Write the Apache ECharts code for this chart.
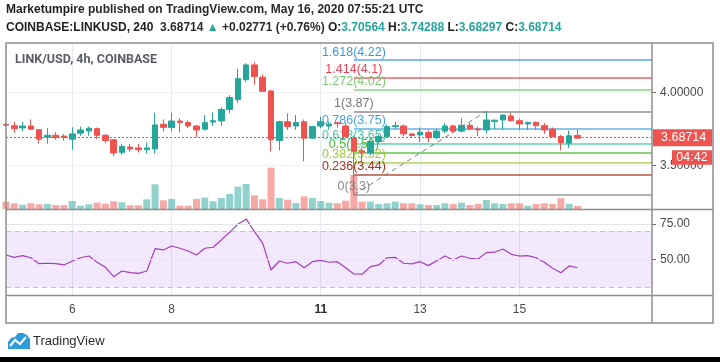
<!DOCTYPE html>
<html><head><meta charset="utf-8">
<script src="https://cdn.jsdelivr.net/npm/echarts@6/dist/echarts.min.js"></script>
<style>html,body{margin:0;padding:0;background:#fff}#c{width:720px;height:362px}</style>
</head><body><div id="c"></div>
<script>
// ---------- data ----------
// 4h candles, first one starts 2020-05-04 16:00 UTC
const opens  = [3.781,3.772,3.757,3.770,3.745,3.694,3.707,3.701,3.680,3.721,3.736,3.752,3.707,3.676,3.590,3.626,3.620,3.608,3.613,3.782,
                3.759,3.804,3.793,3.770,3.748,3.797,3.804,3.883,3.950,4.086,4.187,4.103,4.009,3.671,3.799,3.770,3.799,3.687,3.770,3.770,
                3.792,3.770,3.687,3.600,3.586,3.664,3.698,3.766,3.770,3.716,3.709,3.725,3.690,3.735,3.770,3.735,3.775,3.750,3.743,3.800,
                3.811,3.838,3.806,3.784,3.795,3.772,3.748,3.698,3.653,3.70564];
const highs  = [3.790,3.799,3.799,3.815,3.748,3.755,3.728,3.716,3.761,3.766,3.766,3.759,3.716,3.680,3.649,3.649,3.649,3.657,3.860,3.815,
                3.860,3.822,3.806,3.777,3.845,3.862,3.896,3.980,4.160,4.198,4.205,4.122,4.018,3.806,3.856,3.845,3.815,3.770,3.833,3.800,
                3.800,3.790,3.700,3.620,3.670,3.710,3.780,3.800,3.780,3.720,3.760,3.740,3.750,3.790,3.780,3.824,3.790,3.765,3.870,3.812,
                3.845,3.860,3.820,3.800,3.800,3.790,3.760,3.710,3.739,3.74288];
const lows   = [3.765,3.725,3.736,3.743,3.653,3.649,3.676,3.671,3.608,3.703,3.703,3.680,3.653,3.563,3.574,3.597,3.590,3.581,3.581,3.732,
                3.732,3.725,3.755,3.694,3.739,3.770,3.770,3.856,3.928,4.070,4.052,4.002,3.597,3.603,3.743,3.743,3.529,3.680,3.755,3.745,
                3.760,3.690,3.300,3.520,3.570,3.650,3.690,3.750,3.700,3.690,3.660,3.660,3.680,3.720,3.720,3.725,3.740,3.700,3.720,3.748,
                3.743,3.800,3.740,3.743,3.743,3.716,3.694,3.603,3.620,3.68297];
const closes = [3.775,3.752,3.770,3.748,3.680,3.707,3.691,3.691,3.716,3.743,3.755,3.707,3.671,3.586,3.630,3.613,3.608,3.620,3.777,3.761,
                3.804,3.793,3.770,3.743,3.793,3.806,3.883,3.964,4.093,4.187,4.108,4.007,3.676,3.799,3.766,3.793,3.687,3.766,3.799,3.782,
                3.786,3.698,3.597,3.590,3.664,3.698,3.766,3.772,3.716,3.705,3.728,3.690,3.735,3.770,3.735,3.775,3.750,3.743,3.811,3.810,
                3.845,3.806,3.784,3.793,3.772,3.743,3.698,3.657,3.703,3.68714];
const volumes = [73,57,43,57,47,50,40,40,80,33,47,63,53,77,67,37,37,97,247,87,
                 100,33,33,100,113,77,110,150,223,250,137,97,413,110,93,60,127,110,80,63,
                 57,83,340,73,73,50,57,73,57,57,47,40,40,57,50,63,40,50,90,57,
                 50,57,57,33,50,57,50,107,53,30];
const rsi = [53,51.4,52.6,51.1,46.9,47.2,46.9,46,48.8,51.1,52.3,47.9,44.3,37.7,41.7,40.5,40,41.7,57.5,56.6,
             59.4,57.8,55.9,53,57.8,58.5,63.7,69.1,74.8,78.6,69.6,61.3,42.4,48.8,47.2,48.3,44,48.3,49.2,47.9,
             48.3,44,39.6,39.4,44.8,46,51.1,51.4,47.2,46.7,48.3,45.5,49,52.3,49.5,52.3,50.7,50.2,54.7,55,
             57.3,53.5,52.3,52.6,51.1,47.9,43.6,40.5,45.3,44];
const startUTC = Date.UTC(2020, 4, 4, 16);   // first candle
const slotCount = 79;                          // 4h slots shown on the time axis
const dayTicks = ['6', '8', '11', '13', '15'];
const boldDays = ['11'];
const priceTicks = [3.5, 4.0];
const rsiTicks = [50, 75];
const rsiBand = [30, 70];
const fibRatios = ['1.618', '1.414', '1.272', '1', '0.786', '0.618', '0.5', '0.382', '0.236', '0'];
const fibPrices = [4.22, 4.1, 4.02, 3.87, 3.75, 3.65, 3.59, 3.52, 3.44, 3.3];
const fibFromIdx = 42, fibToIdx = 58;          // swing low candle -> swing high candle
const headerAuthor = 'Marketumpire';
const headerPub = 'published on TradingView.com, May 16, 2020 07:55:21 UTC';
const headerSymbol = 'COINBASE:LINKUSD, 240';
const headerChange = ['+0.02771', '+0.76%'];
const legendText = 'LINK/USD, 4h, COINBASE';
const countdown = '04:42';

// ---------- styles ----------
const UP = '#26a69a', DOWN = '#ef5350';
const fibColors = ['#3f95dc', '#ee4458', '#7cc873', '#7a7a7a', '#4aa2e4', '#45c79f', '#45bb30', '#a2cc3c', '#a8321f', '#8a8a8a'];
const FONT = "'Liberation Sans', Arial, sans-serif";

// ---------- build ----------
const H4 = 4 * 3600 * 1000;
const cats = [];
for (let i = 0; i < slotCount; i++) {
  const d = new Date(startUTC + i * H4);
  cats.push((d.getUTCMonth() + 1) + '/' + d.getUTCDate() + ' ' + String(d.getUTCHours()).padStart(2, '0') + ':00');
}
function dayOf(v) { return v.split(' ')[0].split('/')[1]; }
function isDayTick(idx, v) { return v.endsWith(' 00:00') && dayTicks.includes(dayOf(v)); }

const n = closes.length;
const candleData = opens.map((o, i) => [o, closes[i], lows[i], highs[i]]);
const volData = volumes.map((v, i) => ({
  value: v,
  itemStyle: { color: closes[i] >= opens[i] ? 'rgba(38,166,154,0.5)' : 'rgba(239,83,80,0.5)' }
}));
const last = n - 1;
const lastClose = closes[last];
const fmt = v => v.toFixed(5);

const chart = echarts.init(document.getElementById('c'), null, { renderer: 'canvas' });

const gridL = 6, gridW = 646;
const HF = 12;
const option = {
  animation: false,
  backgroundColor: '#ffffff',
  textStyle: { fontFamily: FONT },
  title: {
    left: 6, top: 1, padding: 0,
    text: '{b|' + headerAuthor + '} {n|' + headerPub + '}\n' +
      '{b|' + headerSymbol + '}  {n|' + fmt(lastClose) + '} {g|▲} {n|' + headerChange[0] + ' (' + headerChange[1] + ')} ' +
      '{b|O:}{g|' + fmt(opens[last]) + '} {b|H:}{g|' + fmt(highs[last]) + '} {b|L:}{g|' + fmt(lows[last]) + '} {b|C:}{g|' + fmt(closes[last]) + '}',
    textStyle: {
      fontFamily: FONT, fontSize: HF,
      rich: {
        b: { fontWeight: 'bold', color: '#1e1e1e', fontSize: HF, lineHeight: 18, fontFamily: FONT },
        n: { color: '#2a2a2a', fontSize: HF, lineHeight: 18, fontFamily: FONT },
        g: { color: UP, fontSize: HF, lineHeight: 18, fontFamily: FONT }
      }
    }
  },
  grid: [
    { left: gridL, width: gridW, top: 43, height: 166 },
    { left: gridL, width: gridW, top: 159, height: 50 },
    { left: gridL, width: gridW, top: 210, height: 85 }
  ],
  xAxis: [0, 1, 2].map(g => ({
    type: 'category', gridIndex: g, data: cats, boundaryGap: false,
    axisLine: { show: false }, axisTick: { show: false },
    axisLabel: {
      show: g === 2, interval: isDayTick, margin: 9, color: '#4a4a4a', fontSize: 12, fontFamily: FONT,
      formatter: v => boldDays.includes(dayOf(v)) ? '{b|' + dayOf(v) + '}' : dayOf(v),
      rich: { b: { fontWeight: 'bold', color: '#2a2a2a', fontSize: 12, fontFamily: FONT } }
    },
    splitLine: { show: g !== 1, interval: isDayTick, lineStyle: { color: '#e2ebf3', width: 1 } }
  })),
  yAxis: [
    {
      type: 'value', gridIndex: 0, position: 'right', min: 3.2034, max: 4.3365, scale: true,
      axisLine: { show: false },
      axisTick: { show: true, customValues: priceTicks, length: 4, lineStyle: { color: '#6e6e6e' } },
      axisLabel: { customValues: priceTicks, formatter: v => v.toFixed(5), margin: 8, color: '#4a4a4a', fontSize: 12, fontFamily: FONT },
      splitLine: { show: false }
    },
    { type: 'value', gridIndex: 1, min: 0, max: 500, show: false, splitLine: { show: false } },
    {
      type: 'value', gridIndex: 2, position: 'right', min: 24.7, max: 84.9,
      axisLine: { show: false },
      axisTick: { show: true, customValues: rsiTicks, length: 4, lineStyle: { color: '#6e6e6e' } },
      axisLabel: { customValues: rsiTicks, formatter: v => v.toFixed(2), margin: 8, color: '#4a4a4a', fontSize: 12, fontFamily: FONT },
      splitLine: { show: false }
    }
  ],
  series: [
    { // price grid lines
      type: 'line', xAxisIndex: 0, yAxisIndex: 0, data: [], silent: true,
      markLine: { silent: true, z: 0, symbol: ['none', 'none'], label: { show: false },
        lineStyle: { color: '#edf1f6', width: 1, type: 'solid' },
        data: priceTicks.map(v => ({ yAxis: v })) }
    },
    { // volume
      type: 'bar', xAxisIndex: 1, yAxisIndex: 1, data: volData, barWidth: 7, z: 1, silent: true
    },
    { // fib levels
      type: 'line', xAxisIndex: 0, yAxisIndex: 0, data: [], silent: true,
      markLine: { silent: true, z: 1, symbol: ['none', 'none'], label: { show: false },
        data: fibPrices.map((p, i) => [
          { coord: [cats[fibFromIdx], p], lineStyle: { color: fibColors[i], width: 1.5, type: 'solid', opacity: 0.85 } },
          { coord: [cats[slotCount - 1], p] }
        ]) }
    },
    { // fib labels
      type: 'scatter', xAxisIndex: 0, yAxisIndex: 0, silent: true, z: 1, symbolSize: 1,
      itemStyle: { opacity: 1, color: 'rgba(0,0,0,0)' },
      data: fibPrices.map((p, i) => ({
        value: [cats[fibFromIdx], p],
        label: { show: true, position: 'top', distance: 1, color: fibColors[i], opacity: 1, fontSize: 12.5, fontFamily: FONT,
          formatter: fibRatios[i] + '(' + String(p) + ')' }
      }))
    },
    { // candles
      type: 'candlestick', xAxisIndex: 0, yAxisIndex: 0, data: candleData, z: 3, barWidth: 6, silent: true,
      itemStyle: { color: UP, color0: DOWN, borderColor: UP, borderColor0: DOWN, borderWidth: 1 }
    },
    { // fib trend line
      type: 'line', xAxisIndex: 0, yAxisIndex: 0, data: [], silent: true,
      markLine: { silent: true, z: 4, symbol: ['none', 'none'], label: { show: false },
        lineStyle: { color: '#7a7a7a', width: 1, type: [5, 4] },
        data: [[{ coord: [cats[fibFromIdx], lows[fibFromIdx]] }, { coord: [cats[fibToIdx], highs[fibToIdx]] }]] }
    },
    { // last price line + label
      type: 'line', xAxisIndex: 0, yAxisIndex: 0, data: [], silent: true,
      markLine: { silent: true, z: 5, symbol: ['none', 'none'],
        lineStyle: { color: DOWN, width: 1, type: [2, 2] },
        label: { show: true, position: 'end', distance: 1, formatter: fmt(lastClose), color: '#ffffff',
          backgroundColor: DOWN, padding: [2, 6, 2, 8], fontSize: 12.5, fontFamily: FONT },
        data: [{ yAxis: lastClose }] }
    },
    { // RSI
      type: 'line', xAxisIndex: 2, yAxisIndex: 2, data: rsi, showSymbol: false, silent: true, z: 3,
      lineStyle: { color: '#a23fbb', width: 1.2 },
      markArea: { silent: true, itemStyle: { color: 'rgba(149,76,233,0.12)' },
        data: [[{ yAxis: rsiBand[0] }, { yAxis: rsiBand[1] }]] },
      markLine: { silent: true, symbol: ['none', 'none'], label: { show: false },
        data: rsiBand.map(v => ({ yAxis: v, lineStyle: { color: '#c4c4c8', width: 1, type: [5, 4] } }))
          .concat(rsiTicks.map(v => ({ yAxis: v, lineStyle: { color: '#e4e6f0', width: 1, type: 'solid' } }))) }
    }
  ]
};
chart.setOption(option);

// frame, legend, countdown badge and logo
const py = chart.convertToPixel({ yAxisIndex: 0 }, lastClose);
chart.setOption({
  graphic: [
    { type: 'rect', shape: { x: 6, y: 43, width: 707, height: 280 }, style: { fill: 'none', stroke: '#8e8e8e', lineWidth: 1.5 }, silent: true, z: 10 },
    { type: 'line', shape: { x1: 652, y1: 43, x2: 652, y2: 323 }, style: { stroke: '#8e8e8e', lineWidth: 1.5 }, silent: true, z: 10 },
    { type: 'line', shape: { x1: 6, y1: 209.5, x2: 713, y2: 209.5 }, style: { stroke: '#8e8e8e', lineWidth: 1.5 }, silent: true, z: 10 },
    { type: 'line', shape: { x1: 6, y1: 295.5, x2: 713, y2: 295.5 }, style: { stroke: '#8e8e8e', lineWidth: 1.5 }, silent: true, z: 10 },
    { type: 'text', x: 15, y: 60, style: { text: legendText, fill: '#5a5d66', font: "bold 12.5px Roboto, 'Liberation Sans', sans-serif", verticalAlign: 'middle' }, silent: true, z: 10 },
    { type: 'rect', shape: { x: 672, y: py + 12, width: 40, height: 14.5 }, style: { fill: DOWN }, silent: true, z: 20 },
    { type: 'text', x: 692, y: py + 19.5, style: { text: countdown, fill: '#ffffff', font: "12.5px 'Liberation Sans', Arial, sans-serif", align: 'center', verticalAlign: 'middle' }, silent: true, z: 21 },
    { type: 'polygon', shape: { points: [[8, 349], [8, 342], [11, 338], [15, 337], [18, 333], [23, 333], [27, 335], [30, 339], [30, 349]] }, style: { fill: '#2d9cdb' }, silent: true, z: 10 },
    { type: 'polyline', shape: { points: [[10, 346], [15, 340], [20, 344], [26, 337]] }, style: { stroke: '#ffffff', lineWidth: 2, fill: 'none' }, silent: true, z: 11 },
    { type: 'text', x: 33, y: 341, style: { text: 'TradingView', fill: '#2b2b2b', font: "13px 'Liberation Sans', Arial, sans-serif", verticalAlign: 'middle' }, silent: true, z: 10 },
    { type: 'rect', shape: { x: 0, y: 357, width: 720, height: 5 }, style: { fill: '#000000' }, silent: true, z: 10 }
  ]
});
</script>
</body></html>
